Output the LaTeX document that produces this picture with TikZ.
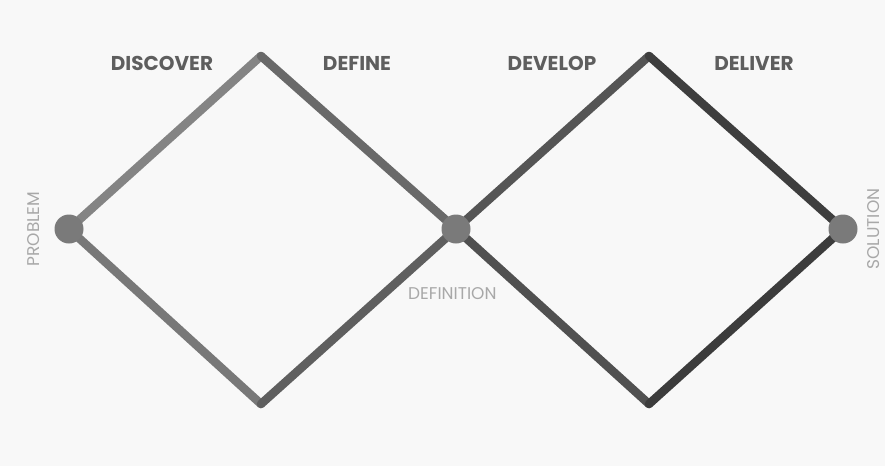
\documentclass[tikz,border=0pt]{standalone}
\usepackage{fontspec}
\setmainfont{Poppins}
\definecolor{bgGray}{HTML}{F8F8F8}
\definecolor{dotGray}{HTML}{7A7A7A}
\definecolor{headGray}{HTML}{5E5E5E}
\definecolor{markGray}{HTML}{A8A8A8}
\tikzset{
  edge/.style={line width=8.5pt, line cap=round},
  dot/.style={circle, fill=dotGray, minimum size=29pt, inner sep=0pt},
  phase/.style={text=headGray, font=\bfseries\fontsize{20}{20}\selectfont},
  endmark/.style={text=markGray, inner sep=0pt, text depth=0pt, font=\fontsize{17}{17}\selectfont}
}
\begin{document}
\begin{tikzpicture}[x=1pt, y=-1pt]
\fill[bgGray] (0,0) rectangle (885,466);
\useasboundingbox (0,0) rectangle (885,466);
\coordinate (v0) at (69,229);
\coordinate (v1) at (261,56);
\coordinate (v2) at (261,404);
\coordinate (v3) at (456,229);
\coordinate (v4) at (649,56);
\coordinate (v5) at (649,404);
\coordinate (v6) at (843,229);
\draw[edge, color={rgb,255:red,132;green,132;blue,132}](v0) -- (v1);
\draw[edge, color={rgb,255:red,120;green,120;blue,120}](v0) -- (v2);
\draw[edge, color={rgb,255:red,105;green,105;blue,105}](v1) -- (v3);
\draw[edge, color={rgb,255:red,95;green,95;blue,95}](v2) -- (v3);
\draw[edge, color={rgb,255:red,85;green,85;blue,85}](v3) -- (v4);
\draw[edge, color={rgb,255:red,80;green,80;blue,80}](v3) -- (v5);
\draw[edge, color={rgb,255:red,62;green,62;blue,62}](v4) -- (v6);
\draw[edge, color={rgb,255:red,60;green,60;blue,60}](v5) -- (v6);
\node[dot] (problem) at (v0){};
\node[dot] (definition) at (v3){};
\node[dot] (solution) at (v6){};
\node[phase] (discover) at (162,63){DISCOVER};
\node[phase] (define) at (357,63){DEFINE};
\node[phase] (develop) at (552,63){DEVELOP};
\node[phase] (deliver) at (754,63){DELIVER};
\node[endmark, rotate=90] (problemtxt) at (34,229){PROBLEM};
\node[endmark, rotate=90] (solutiontxt) at (873,229){SOLUTION};
\node[endmark, anchor=west] (definitiontxt) at (408,294){DEFINITION};

\end{tikzpicture}
\end{document}
